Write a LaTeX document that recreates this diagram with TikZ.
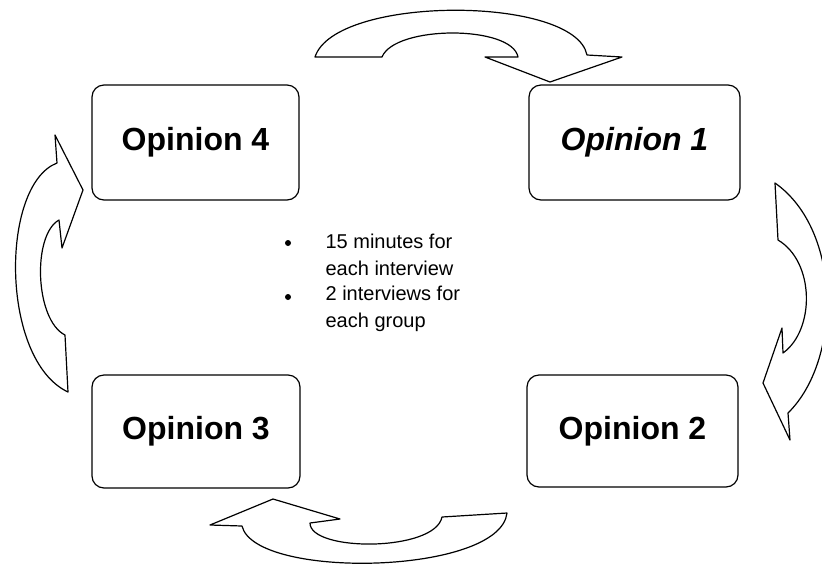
\documentclass[tikz,border=0pt]{standalone}
\usepackage{fontspec}
\setmainfont{Liberation Sans}
\begin{document}
\begin{tikzpicture}[x=1pt, y=-1pt, line width=1.2pt,
    opinion/.style={draw, rounded corners=12pt, font=\fontsize{32}{36}\selectfont\bfseries},
    bullettext/.style={anchor=west, align=left, inner sep=0pt, font=\fontsize{20}{27}\selectfont},
    dot/.style={circle, fill, inner sep=0pt, minimum size=6pt},
    turn/.style={draw, line join=round}]
  \useasboundingbox (0,0) rectangle (822,566);
  \node [opinion, minimum width=207pt, minimum height=115pt] (op4) at (195.5,142.5) {Opinion 4};
  \node [opinion, minimum width=211pt, minimum height=115pt] (op1) at (634.5,142.5) {\itshape Opinion 1};
  \node [opinion, minimum width=211pt, minimum height=112pt] (op2) at (632.5,431) {Opinion 2};
  \node [opinion, minimum width=208pt, minimum height=113pt] (op3) at (196,431.5) {Opinion 3};
  \node [dot] (b1) at (288,243) {};
  \node [dot] (b2) at (288,297) {};
  \node [bullettext] (t1) at (325,255) {15 minutes for\\each interview};
  \node [bullettext] (t2) at (325,309) {2 interviews for\\each group};
  % 4 -> 1
  \draw [turn] (315,57) .. controls (335,-5) and (575,-5) .. (587,55) -- (622,57) -- (550,82)
    -- (485,57) -- (518,57) .. controls (512,25) and (395,25) .. (382,57) -- cycle;
  % 1 -> 2
  \draw [turn] (775,183) -- (778,240) .. controls (815,262) and (815,330) .. (783,353) -- (782,328)
    -- (763,383) -- (790,440) -- (788,413) .. controls (842,360) and (842,230) .. (775,183) -- cycle;
  % 2 -> 3
  \draw [turn] (442,517) -- (507,513) .. controls (500,575) and (255,580) .. (242,526) -- (210,525)
    -- (273,499) -- (340,519) -- (310,523) .. controls (310,552) and (435,552) .. (442,517) -- cycle;
  % 3 -> 4
  \draw [turn] (55,135) -- (83,190) -- (62,248) -- (59,220) .. controls (32,235) and (35,320) .. (65,335)
    -- (68,392) .. controls (0,360) and (0,185) .. (57,163) -- cycle;
\end{tikzpicture}
\end{document}
